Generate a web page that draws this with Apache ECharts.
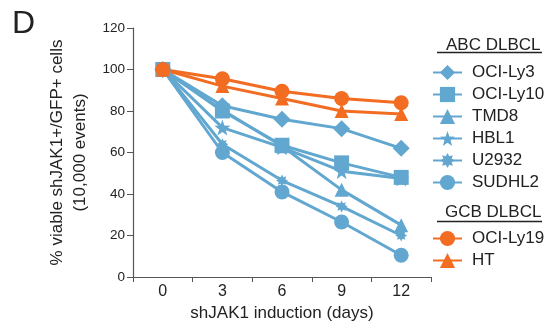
<!DOCTYPE html>
<html><head><meta charset="utf-8">
<script src="https://cdn.jsdelivr.net/npm/echarts@6/dist/echarts.min.js"></script>
<style>html,body{margin:0;padding:0;background:#fff}#c{width:556px;height:329px}</style>
</head><body><div id="c"></div>
<script>
var days = ['0', '3', '6', '9', '12'];
var yTicks = [0, 20, 40, 60, 80, 100, 120];
var ociLy3 = [100, 82.5, 76, 71.5, 62];
var ociLy10 = [100, 80, 63.5, 55, 48];
var tmd8 = [100, 80.5, 63, 42, 25];
var hbl1 = [100, 72, 62.5, 51, 47.5];
var u2932 = [100, 64, 46.5, 34, 20];
var sudhl2 = [100, 60, 41, 26.5, 10.5];
var ociLy19 = [100, 95.5, 89.5, 86, 84];
var ht = [100, 92, 86, 80, 78.5];

var BLUE = '#62a7d0', ORANGE = '#f26c22';
var STAR = 'path://M0,-10 L2.35,-3.24 L9.51,-3.09 L3.8,1.24 L5.88,8.09 L0,4 L-5.88,8.09 L-3.8,1.24 L-9.51,-3.09 L-2.35,-3.24Z';
var CROSS = 'path://M10,0 L5.54,2.3 L7.07,7.07 L2.3,5.54 L0,10 L-2.3,5.54 L-7.07,7.07 L-5.54,2.3 L-10,0 L-5.54,-2.3 L-7.07,-7.07 L-2.3,-5.54 L0,-10 L2.3,-5.54 L7.07,-7.07 L5.54,-2.3Z';

function mk(name, data, color, symbol, size) {
  return {
    name: name, type: 'line', data: data, symbol: symbol, symbolSize: size,
    showAllSymbol: true, animation: false,
    lineStyle: { color: color, width: 3 },
    itemStyle: { color: color },
    emphasis: { disabled: true }
  };
}

var series = [
  mk('OCI-Ly3', ociLy3, BLUE, 'diamond', 17),
  mk('OCI-Ly10', ociLy10, BLUE, 'rect', 15),
  mk('TMD8', tmd8, BLUE, 'triangle', 14),
  mk('HBL1', hbl1, BLUE, STAR, 16),
  mk('U2932', u2932, BLUE, CROSS, 12),
  mk('SUDHL2', sudhl2, BLUE, 'circle', 15),
  mk('OCI-Ly19', ociLy19, ORANGE, 'circle', 15),
  mk('HT', ht, ORANGE, 'triangle', 14)
];

var legendBase = {
  orient: 'vertical', left: 432, padding: 0, itemWidth: 29, itemHeight: 19, itemGap: 5,
  selectedMode: false,
  textStyle: { fontFamily: 'Liberation Sans, Arial', fontSize: 17, color: '#222', padding: [0, 0, 0, 5] }
};

var chart = echarts.init(document.getElementById('c'), null, { renderer: 'canvas' });
chart.setOption({
  animation: false,
  grid: { left: 133, right: 125, top: 28, bottom: 52, containLabel: false },
  legend: [
    Object.assign({}, legendBase, { top: 64, data: ['OCI-Ly3', 'OCI-Ly10', 'TMD8', 'HBL1', 'U2932', 'SUDHL2'] }),
    Object.assign({}, legendBase, { top: 230, data: ['OCI-Ly19', 'HT'] })
  ],
  xAxis: {
    type: 'category', data: days, boundaryGap: true,
    name: 'shJAK1 induction (days)', nameLocation: 'middle', nameGap: 26,
    nameTextStyle: { fontFamily: 'Liberation Sans, Arial', fontSize: 17, color: '#222' },
    axisLine: { lineStyle: { color: '#555', width: 1.2 } },
    axisTick: { show: true, length: 5, inside: false, alignWithLabel: false, lineStyle: { color: '#555' } },
    axisLabel: { fontFamily: 'Liberation Sans, Arial', fontSize: 16, color: '#222', margin: 7 },
    splitLine: { show: false }
  },
  yAxis: {
    type: 'value', min: yTicks[0], max: yTicks[yTicks.length - 1], interval: 20,
    name: '% viable shJAK1+/GFP+ cells\n(10,000 events)', nameLocation: 'middle', nameGap: 37,
    nameTextStyle: { fontFamily: 'Liberation Sans, Arial', fontSize: 17, color: '#222', lineHeight: 23 },
    axisLine: { show: true, lineStyle: { color: '#555', width: 1.2 } },
    axisTick: { show: true, length: 6, lineStyle: { color: '#555' } },
    axisLabel: { fontFamily: 'Liberation Sans, Arial', fontSize: 13.5, color: '#222', margin: 8 },
    splitLine: { show: false }
  },
  graphic: [
    { type: 'text', left: 12, top: 8, style: { text: 'D', font: '32px Liberation Sans, Arial', fill: '#222' } },
    { type: 'text', left: 446, top: 37, style: { text: 'ABC DLBCL', font: '17px Liberation Sans, Arial', fill: '#222' } },
    { type: 'line', shape: { x1: 437, y1: 52.5, x2: 542, y2: 52.5 }, style: { stroke: '#222', lineWidth: 1.3 } },
    { type: 'text', left: 445, top: 204, style: { text: 'GCB DLBCL', font: '17px Liberation Sans, Arial', fill: '#222' } },
    { type: 'line', shape: { x1: 437, y1: 221.5, x2: 542, y2: 221.5 }, style: { stroke: '#222', lineWidth: 1.3 } }
  ],
  series: series
});
</script>
</body></html>
